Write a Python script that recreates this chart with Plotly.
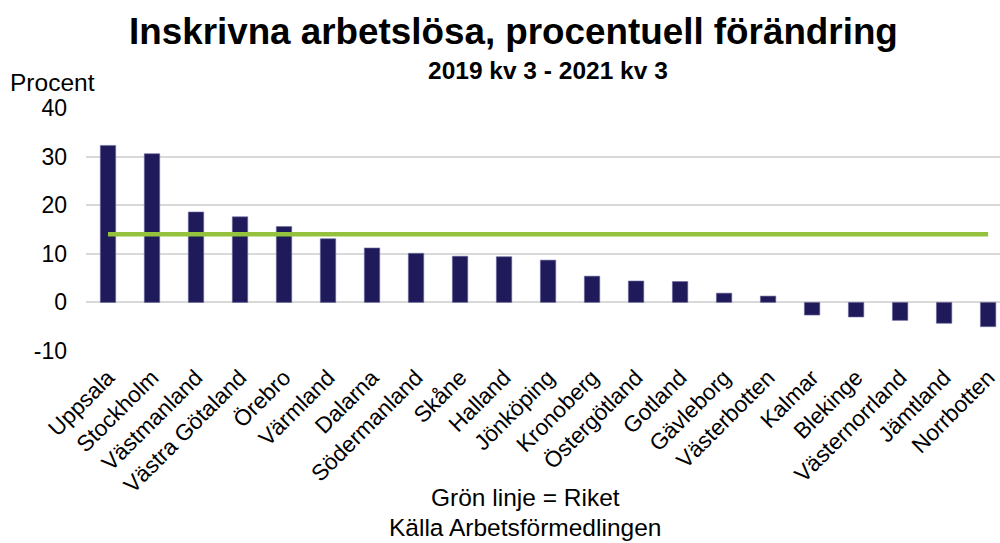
import plotly.graph_objects as go

regions = ["Uppsala", "Stockholm", "Västmanland", "Västra Götaland", "Örebro", "Värmland",
           "Dalarna", "Södermanland", "Skåne", "Halland", "Jönköping", "Kronoberg",
           "Östergötland", "Gotland", "Gävleborg", "Västerbotten", "Kalmar", "Blekinge",
           "Västernorrland", "Jämtland", "Norrbotten"]
change = [32.3, 30.6, 18.6, 17.6, 15.6, 13.1, 11.2, 10.1, 9.5, 9.4, 8.7, 5.4,
          4.4, 4.3, 1.9, 1.3, -2.6, -3.0, -3.7, -4.3, -5.0]
riket = 14.0
y_ticks = [-10, 0, 10, 20, 30, 40]
y_tick_text = ["-10", "0", "10", "20", "30", "40"]

font = "Liberation Sans, Arial, sans-serif"

L, R, T, B = 86, 0, 108, 192
W, H = 1000, 543
pw, ph = W - L - R, H - T - B


def px(x, y):
    return (x - L) / pw, 1 - (y - T) / ph


fig = go.Figure()
fig.add_trace(go.Bar(
    x=regions, y=change, width=0.35,
    marker=dict(color="#1f1b5b", line=dict(color="#6b68a0", width=0.6)),
    showlegend=False, hoverinfo="x+y"))
fig.add_trace(go.Scatter(
    x=regions, y=[riket] * len(regions), mode="lines",
    line=dict(color="#95c23d", width=4.5), showlegend=False))

texts = [
    ("<b>Inskrivna arbetslösa, procentuell förändring</b>", 513, 31, 36.8, "center"),
    ("<b>2019 kv 3 - 2021 kv 3</b>", 548, 70, 24.5, "center"),
    ("Procent", 8, 83, 24.5, "left"),
    ("Grön linje = Riket", 525, 497, 24.5, "center"),
    ("Källa Arbetsförmedlingen", 525, 527, 24.5, "center"),
]
ann = []
for t, x, y, s, anc in texts:
    xp, yp = px(x, y)
    ann.append(dict(text=t, x=xp, y=yp, xref="paper", yref="paper", showarrow=False,
                    xanchor=anc, yanchor="middle", font=dict(size=s)))

fig.update_layout(
    width=W, height=H,
    margin=dict(l=L, r=R, t=T, b=B),
    paper_bgcolor="white", plot_bgcolor="white",
    font=dict(family=font, color="black"),
    annotations=ann,
)
fig.update_xaxes(
    range=[-0.5, 20.27], tickangle=-45, tickfont=dict(size=22.5),
    showgrid=False, showline=False, ticks="", automargin=False,
    ticklabelstandoff=8)
fig.update_yaxes(
    range=[-10, 40], tickvals=y_ticks, ticktext=y_tick_text, tickfont=dict(size=23),
    showgrid=True, gridcolor="#d9d9d9", gridwidth=1.5,
    zeroline=True, zerolinecolor="#d9d9d9", zerolinewidth=1.5,
    showline=False, ticks="", ticklabelstandoff=18, automargin=False)

fig.write_html("out.html", config={"displayModeBar": False},
               post_script="document.body.style.margin='0';")
